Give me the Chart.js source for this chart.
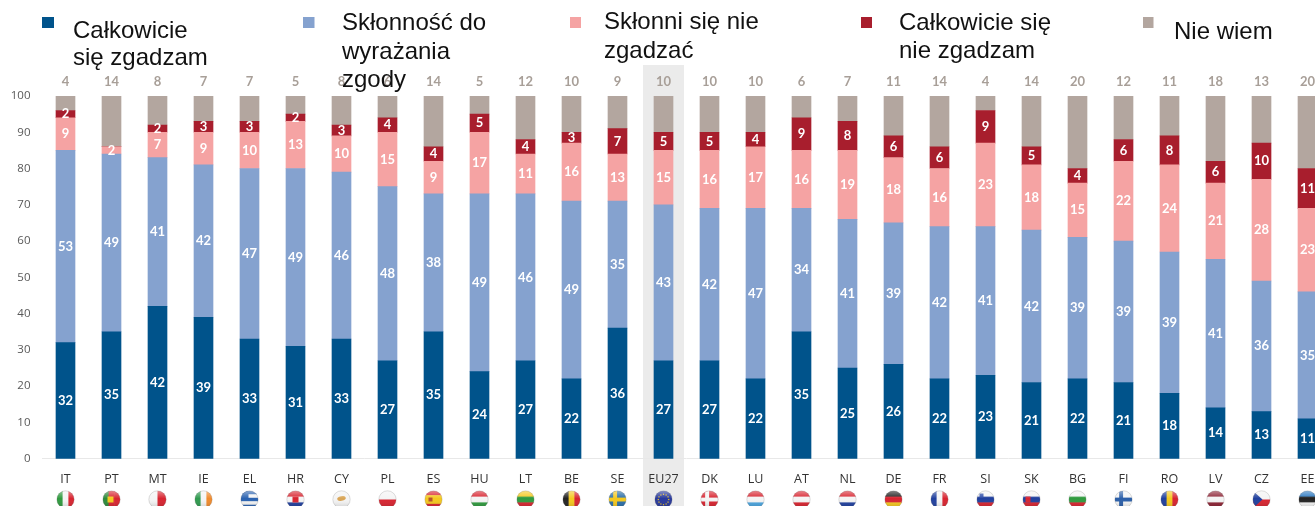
<!DOCTYPE html>
<html lang="pl">
<head>
<meta charset="utf-8">
<style>
html,body{margin:0;padding:0;background:#fff;width:1315px;height:506px;overflow:hidden}
canvas{display:block}
</style>
<script src="https://cdn.jsdelivr.net/npm/chart.js@4"></script>
</head>
<body>
<canvas id="c" width="1340" height="506"></canvas>
<script>
const categories = ["IT","PT","MT","IE","EL","HR","CY","PL","ES","HU","LT","BE","SE","EU27","DK","LU","AT","NL","DE","FR","SI","SK","BG","FI","RO","LV","CZ","EE"];
const totallyAgree    = [32,35,42,39,33,31,33,27,35,24,27,22,36,27,27,22,35,25,26,22,23,21,22,21,18,14,13,11];
const tendToAgree     = [53,49,41,42,47,49,46,48,38,49,46,49,35,43,42,47,34,41,39,42,41,42,39,39,39,41,36,35];
const tendToDisagree  = [9,2,7,9,10,13,10,15,9,17,11,16,13,15,16,17,16,19,18,16,23,18,15,22,24,21,28,23];
const totallyDisagree = [2,0,2,3,3,2,3,4,4,5,4,3,7,5,5,4,9,8,6,6,9,5,4,6,8,6,10,11];
const dontKnow        = [4,14,8,7,7,5,8,6,14,5,12,10,9,10,10,10,6,7,11,14,4,14,20,12,11,18,13,20];
const yTicks = [0,10,20,30,40,50,60,70,80,90,100];
const seriesNames = ["Całkowicie się zgadzam","Skłonność do wyrażania zgody","Skłonni się nie zgadzać","Całkowicie się nie zgadzam","Nie wiem"];
const legendLines = [["Całkowicie","się zgadzam"],["Skłonność do","wyrażania","zgody"],["Skłonni się nie","zgadzać"],["Całkowicie się","nie zgadzam"],["Nie wiem"]];
const seriesColors = ["#00538b","#85a2cf","#f5a3a3","#a81e2d","#b3a69f"];

/* flag designs: kind, colours, optional crest [colour, dx, dy, w, h] */
const R="#d8232f",W="#f4f4f4",B="#1f3f9e",G="#2f9a3e",Y="#f4c81e",K="#222222";
const flags = {
  IT:["v",[G,W,R]],PT:["v",["#2c8a3a",R,R],[Y,-4,-3,6,6]],MT:["v",[W,R]],IE:["v",["#2f9a4e",W,"#f08a2c"]],
  EL:["h",["#2a62b0",W,"#2a62b0",W,"#2a62b0"],["#2a62b0",-9,-9,8,8]],HR:["h",[R,W,B],[R,-3,-3,6,6]],CY:["blob",[W,"#d9a556"]],PL:["h",[W,R]],
  ES:["h",[R,Y,Y,R],["#b5522a",-5,-2,4,4]],HU:["h",[R,W,G]],LT:["h",[Y,G,R]],BE:["v",[K,Y,R]],SE:["cross",["#2a6ea8",Y]],
  EU27:["stars",["#27389a",Y]],DK:["cross",[R,W]],LU:["h",[R,W,"#4aa5df"]],AT:["h",[R,W,R]],NL:["h",[R,W,B]],
  DE:["h",[K,R,Y]],FR:["v",[B,W,R]],SI:["h",[W,B,R],["#2a4aa8",-6,-6,4,4]],SK:["h",[W,B,R],[R,-6,-3,5,6]],BG:["h",[W,G,R]],FI:["cross",[W,"#2a5ea8"]],
  RO:["v",[B,Y,R]],LV:["h",["#8c2233",W,"#8c2233"]],CZ:["tri",[W,R,B]],EE:["h",["#2a78c0",K,W]]
};

function drawFlag(ctx,x,y,r,spec){
  const kind=spec[0],c=spec[1],crest=spec[2];
  ctx.save();
  ctx.beginPath();ctx.arc(x,y,r,0,Math.PI*2);ctx.clip();
  const L=x-r,T=y-r,S=2*r;
  if(kind==="h"){c.forEach((col,i)=>{ctx.fillStyle=col;ctx.fillRect(L,T+S*i/c.length,S,S/c.length+.5);});}
  else if(kind==="v"){c.forEach((col,i)=>{ctx.fillStyle=col;ctx.fillRect(L+S*i/c.length,T,S/c.length+.5,S);});}
  else if(kind==="cross"){ctx.fillStyle=c[0];ctx.fillRect(L,T,S,S);ctx.fillStyle=c[1];ctx.fillRect(x-r*.5,T,r*.45,S);ctx.fillRect(L,y-r*.22,S,r*.45);}
  else if(kind==="blob"){ctx.fillStyle=c[0];ctx.fillRect(L,T,S,S);ctx.fillStyle=c[1];ctx.beginPath();ctx.ellipse(x,y-1,r*.5,r*.25,-.2,0,Math.PI*2);ctx.fill();}
  else if(kind==="stars"){ctx.fillStyle=c[0];ctx.fillRect(L,T,S,S);ctx.fillStyle=c[1];for(let i=0;i<12;i++){const a=i*Math.PI/6;ctx.fillRect(x+Math.cos(a)*r*.6-.6,y+Math.sin(a)*r*.6-.6,1.2,1.2);}}
  else if(kind==="tri"){ctx.fillStyle=c[0];ctx.fillRect(L,T,S,r);ctx.fillStyle=c[1];ctx.fillRect(L,y,S,r);ctx.fillStyle=c[2];ctx.beginPath();ctx.moveTo(L,T);ctx.lineTo(x+1,y);ctx.lineTo(L,T+S);ctx.fill();}
  if(crest){ctx.fillStyle=crest[0];ctx.fillRect(x+crest[1],y+crest[2],crest[3],crest[4]);}
  const g=ctx.createLinearGradient(0,T,0,T+S);
  g.addColorStop(0,"rgba(255,255,255,.45)");g.addColorStop(.45,"rgba(255,255,255,0)");g.addColorStop(1,"rgba(0,0,0,.18)");
  ctx.fillStyle=g;ctx.fillRect(L,T,S,S);
  ctx.restore();
  ctx.beginPath();ctx.arc(x,y,r,0,Math.PI*2);ctx.strokeStyle="rgba(120,120,120,.35)";ctx.lineWidth=.7;ctx.stroke();
}

const legendLayout = [
  {mx:42,my:17,mw:12,mh:11,tx:73,ty:37.5,lh:27.5},{mx:303,my:17,mw:11.5,mh:11,tx:342,ty:30,lh:28.5},{mx:570,my:17,mw:11,mh:11,tx:604,ty:29,lh:28.5},
  {mx:861,my:17,mw:11,mh:11,tx:899,ty:30,lh:28.2},{mx:1143,my:17,mw:10.5,mh:11,tx:1174,ty:39,lh:28}
];

const decorations = {
  id:"decorations",
  beforeDraw(chart){
    const {ctx,scales:{x}}=chart;
    const i=categories.indexOf("EU27"),cx=x.getPixelForValue(i);
    ctx.save();ctx.fillStyle="#ebebeb";ctx.fillRect(cx-20.5,65,41,441);ctx.restore();
  },
  afterDatasetsDraw(chart){
    const {ctx,scales:{x,y}}=chart;
    ctx.save();
    ctx.textAlign="center";ctx.textBaseline="middle";
    ctx.font="700 13px Lato, 'Open Sans', sans-serif";
    chart.data.datasets.forEach((ds,di)=>{
      if(di===4) return;
      chart.getDatasetMeta(di).data.forEach((el,i)=>{
        const v=ds.data[i];
        if(!v) return;
        ctx.fillStyle="#ffffff";
        ctx.fillText(String(v),el.x,(el.y+el.base)/2);
      });
    });
    ctx.fillStyle="#a89f98";
    dontKnow.forEach((v,i)=>ctx.fillText(String(v),x.getPixelForValue(i),82));
    categories.forEach((c,i)=>drawFlag(ctx,x.getPixelForValue(i),499.5,8.7,flags[c]));
    ctx.textAlign="left";ctx.textBaseline="alphabetic";
    ctx.font="24px 'Liberation Sans', Arial, sans-serif";
    legendLines.forEach((lines,i)=>{
      const p=legendLayout[i];
      ctx.fillStyle=seriesColors[i];
      ctx.fillRect(p.mx,p.my,p.mw,p.mh);
      ctx.fillStyle="#111111";
      lines.forEach((t,k)=>ctx.fillText(t,p.tx,p.ty+k*p.lh));
    });
    ctx.restore();
  }
};

const allSeries=[totallyAgree,tendToAgree,tendToDisagree,totallyDisagree,dontKnow];
new Chart(document.getElementById("c"),{
  type:"bar",
  data:{
    labels:categories,
    datasets:allSeries.map((d,i)=>({label:seriesNames[i],data:d,backgroundColor:seriesColors[i],barThickness:19,borderWidth:0}))
  },
  options:{
    responsive:false,animation:false,
    layout:{padding:{top:96,right:9.5,left:0,bottom:0}},
    plugins:{legend:{display:false},tooltip:{enabled:false}},
    scales:{
      x:{stacked:true,
        afterFit(s){s.height=47.3;},
        grid:{display:false,drawTicks:false},
        border:{display:true,color:"#e8e8e8"},
        ticks:{padding:13,color:"#333333",font:{family:"'Open Sans', sans-serif",size:12.5},maxRotation:0,autoSkip:false}},
      y:{stacked:true,min:0,max:100,
        afterFit(s){s.width=42.5;},
        afterBuildTicks(s){s.ticks=yTicks.map(v=>({value:v}));},
        grid:{display:false,drawTicks:false},
        border:{display:false},
        ticks:{padding:12,color:"#595959",font:{family:"'Open Sans', sans-serif",size:11.5}}}
    }
  },
  plugins:[decorations]
});
</script>
</body>
</html>
